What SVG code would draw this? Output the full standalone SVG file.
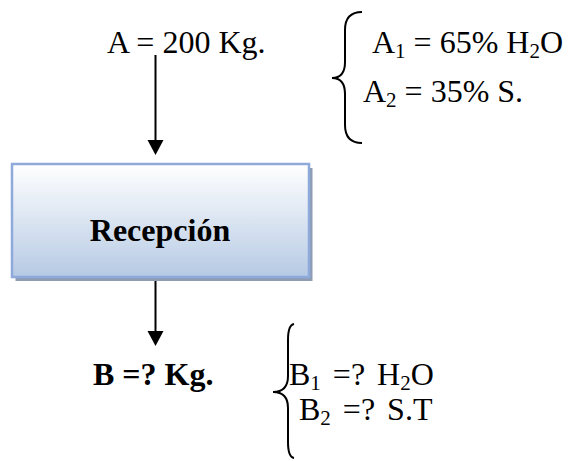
<svg xmlns="http://www.w3.org/2000/svg" width="569" height="461" viewBox="0 0 569 461">
<defs>
<linearGradient id="boxFill" x1="0" y1="0" x2="0" y2="1">
<stop offset="0" stop-color="#FFFFFF"/>
<stop offset="1" stop-color="#B6CAE4"/>
</linearGradient>
</defs>
<style>
text{font-family:"Liberation Serif","Times New Roman","DejaVu Serif",serif;fill:#000;font-size:32px}
.b{font-weight:bold}
.sub{font-size:21px}
.ws{word-spacing:4px}
.conn{stroke:#000;stroke-width:2;fill:none}
.head{fill:#000}
.brace{stroke:#000;stroke-width:2;fill:none}
</style>
<rect width="569" height="461" fill="#FFFFFF"/>
<g id="connectors">
<line class="conn" x1="155.5" y1="55" x2="155.5" y2="141"/>
<path class="head" d="M147.5,140 L163.5,140 L155.5,155 Z"/>
<line class="conn" x1="155.5" y1="278" x2="155.5" y2="332"/>
<path class="head" d="M147.5,331 L163.5,331 L155.5,346 Z"/>
</g>
<g id="input-A">
<text x="107" y="53">A = 200 Kg.</text>
</g>
<g id="composition-A">
<path class="brace" d="M362,12 Q345,12 345,30 L345,62 Q345,78 332,78 Q345,78 345,94 L345,125 Q345,143 362,143"/>
<text x="372" y="53">A<tspan class="sub" dy="5">1</tspan><tspan dy="-5"> = 65% H</tspan><tspan class="sub" dy="5">2</tspan><tspan dy="-5">O</tspan></text>
<text x="363" y="102">A<tspan class="sub" dy="5">2</tspan><tspan dy="-5"> = 35% S.</tspan></text>
</g>
<g id="recepcion">
<rect x="15.5" y="168" width="297" height="113" fill="#8E9CB5"/>
<rect x="12" y="164" width="297" height="113" fill="url(#boxFill)" stroke="#8EAADB" stroke-width="2.5"/>
<text class="b" x="160" y="241" text-anchor="middle">Recepción</text>
</g>
<g id="output-B">
<text class="b" x="93" y="385">B =? Kg.</text>
</g>
<g id="composition-B">
<path class="brace" d="M294,324 Q288,325 288,340 L288,376 Q288,392 273,392 Q288,392 288,408 L288,442 Q288,457 294,458"/>
<text class="ws" x="289" y="385">B<tspan class="sub" dy="5">1</tspan><tspan dy="-5"> =? H</tspan><tspan class="sub" dy="5">2</tspan><tspan dy="-5">O</tspan></text>
<text class="ws" x="299" y="420">B<tspan class="sub" dy="5">2</tspan><tspan dy="-5"> =? S.T</tspan></text>
</g>
</svg>
